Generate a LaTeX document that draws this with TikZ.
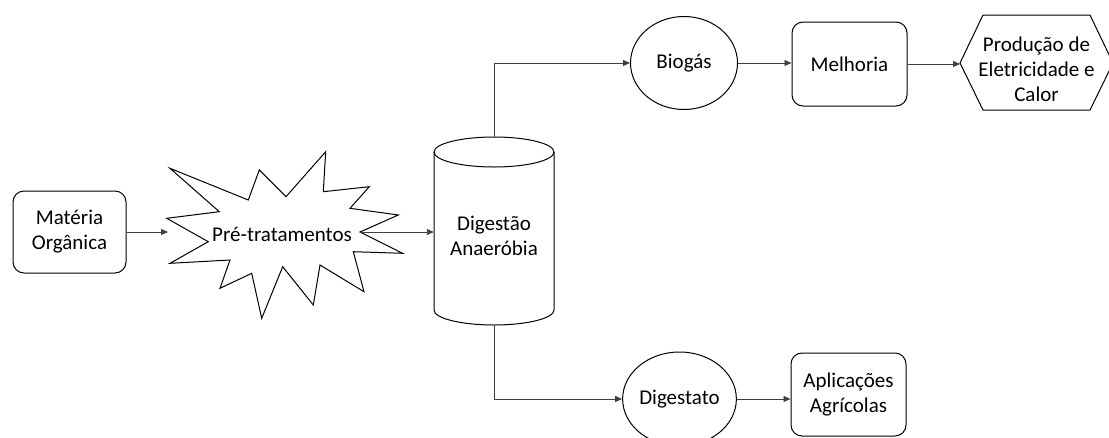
\documentclass[tikz,border=0pt]{standalone}
\usepackage{fontspec}
\setmainfont{Carlito}
\usetikzlibrary{arrows.meta,shapes.geometric}
\tikzset{
  txt/.style={font=\fontsize{21pt}{25pt}\selectfont, align=center, inner sep=0pt},
  rbox/.style={txt, draw, line width=1pt, rounded corners=11pt},
  oval/.style={txt, draw, ellipse, line width=1pt, inner sep=0pt},
  conn/.style={draw=black!75, line width=0.9pt, -{Triangle[length=7pt,width=6pt]}},
  shp/.style={draw, line width=1pt, line join=miter}
}
\begin{document}
\begin{tikzpicture}[x=1pt,y=-1pt]
\useasboundingbox (0,0) rectangle (1109,437);
\begin{scope}
\clip (0,0) rectangle (1109,437);
% Materia organica
\node[rbox, minimum width=113pt, minimum height=82pt] (mat) at (69.5,232) {Matéria\\Orgânica};
% star
\draw[shp, fill=white] (170,168.3) -- (248.3,200) -- (259.3,170) -- (286,196.7) -- (325.7,151.7)
  -- (323.3,191.7) -- (369.3,186.7) -- (350,208.3) -- (398.3,215) -- (360,232)
  -- (402.7,253.3) -- (353.3,251.7) -- (364,291.7) -- (320,265) -- (313.3,305)
  -- (282.7,266.7) -- (261.7,318.3) -- (251.7,273.3) -- (220,288.3) -- (230,260)
  -- (170,263.3) -- (208.3,241.7) -- (166.7,218.3) -- (219.3,211.7) -- cycle;
\node[txt] (star) at (282,234) {Pré-tratamentos};
\coordinate (starIn) at (168,232);
\coordinate (starOut) at (360,232);
% cylinder
\node[minimum width=120pt, minimum height=188pt, inner sep=0pt] (dig) at (494,231) {};
\draw[shp] (434,152) -- (434,310) arc[start angle=180, end angle=0, x radius=60, y radius=15] -- (554,152);
\draw[shp] (494,152) ellipse[x radius=60, y radius=15];
\node[txt] (digt) at (494,236) {Digestão\\Anaeróbia};
% top branch
\node[oval, minimum width=107pt, minimum height=93pt] (bio) at (684,63) {Biogás};
\node[rbox, minimum width=115pt, minimum height=84pt] (mel) at (849.5,64) {Melhoria};
\draw[shp] (960,63) -- (983,15) -- (1090,15) -- (1113,63) -- (1090,110) -- (983,110) -- cycle;
\coordinate (hexW) at (960,63);
\node[txt] (prod) at (1036.5,69) {Produção de\\Eletricidade e\\Calor};
% bottom branch
\node[oval, minimum width=107pt, minimum height=94pt] (dige) at (679.5,399) {Digestato};
\node[rbox, minimum width=115pt, minimum height=83pt] (apl) at (848.5,394.5) {Aplicações\\Agrícolas};
% connectors
\draw[conn] (mat.east) -- (starIn);
\draw[conn] (starOut) -- (starOut -| dig.west);
\draw[conn] (dig.north) |- (bio.west);
\draw[conn] (bio.east) -- (bio.east -| mel.west);
\draw[conn] (mel.east) -- (mel.east -| hexW);
\draw[conn] (dig.south) |- (dige.west);
\draw[conn] (dige.east) -- (dige.east -| apl.west);
\end{scope}
\end{tikzpicture}
\end{document}
